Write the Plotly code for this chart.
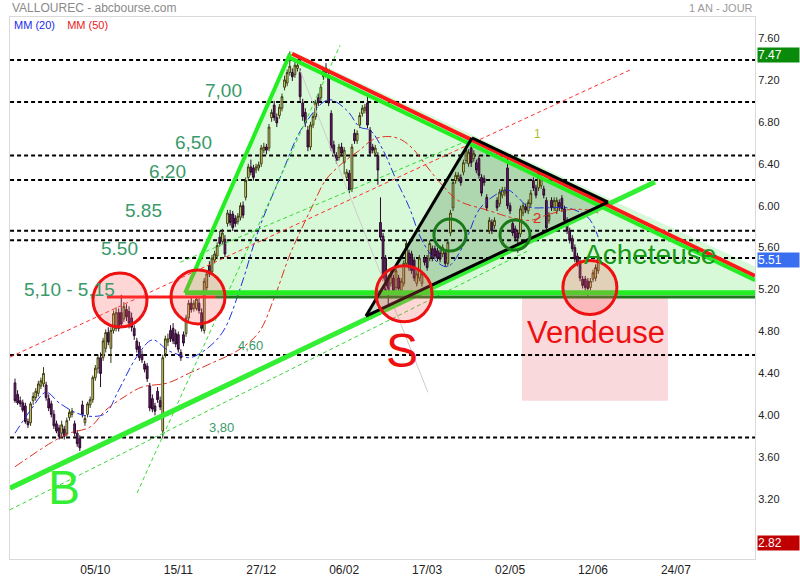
import plotly.graph_objects as go

# ---------------- data ----------------
opens = [4.31,4.20,4.14,4.12,4.09,3.94,3.93,4.14,4.17,4.21,4.28,4.30,4.29,4.16,4.11,4.01,3.92,3.88,3.83,3.87,
         3.83,3.98,4.01,3.92,3.83,3.78,4.10,3.93,4.01,4.10,4.15,4.36,4.45,4.55,4.55,4.64,4.79,4.64,4.81,4.83,
         4.98,4.98,4.92,5.01,4.99,4.93,4.83,4.71,4.66,4.58,4.49,4.47,4.28,4.16,4.09,4.23,4.14,3.85,4.59,4.70,
         4.81,4.83,4.78,4.77,4.60,4.77,4.78,4.93,5.07,5.02,5.02,5.07,4.98,4.81,5.22,5.43,5.37,5.48,5.52,5.70,
         5.66,5.68,5.83,5.92,5.92,5.88,5.85,5.89,6.00,6.08,6.27,6.37,6.36,6.34,6.36,6.40,6.53,6.56,6.55,6.84,
         6.96,6.84,6.86,6.93,7.13,7.17,7.27,7.27,7.25,7.31,7.27,6.98,6.89,6.72,6.56,6.77,6.85,7.03,7.03,7.23,
         7.31,7.23,6.88,6.58,6.48,6.46,6.56,6.41,6.27,6.31,6.16,6.69,6.62,6.77,6.88,6.91,6.98,6.72,6.56,6.50,
         6.48,5.84,5.71,5.50,5.31,5.26,5.31,5.22,5.31,5.19,5.26,5.45,5.55,5.54,5.48,5.26,5.31,5.26,5.50,5.50,
         5.50,5.59,5.59,5.57,5.55,5.54,5.55,5.45,5.74,5.98,6.24,6.26,6.27,6.32,6.43,6.40,6.55,6.45,6.41,6.45,
         6.27,6.26,6.08,5.76,5.84,5.81,6.05,6.02,6.10,6.12,6.36,6.00,5.83,5.78,5.74,5.73,5.93,5.99,5.95,6.02,
         6.24,6.17,6.17,6.19,6.16,6.05,5.86,6.05,5.98,5.95,6.03,6.07,5.97,5.86,5.76,5.69,5.60,5.52,5.46,5.30,
         5.30,5.28,5.22,5.30,5.31,5.38]
highs = [4.35,4.24,4.18,4.15,4.12,3.97,4.13,4.22,4.26,4.33,4.36,4.46,4.32,4.20,4.14,4.05,3.95,3.91,3.95,3.90,
         3.98,4.06,4.07,3.95,3.86,3.81,4.14,4.00,4.13,4.18,4.38,4.48,4.58,4.60,4.74,4.82,4.84,4.84,5.00,5.03,
         5.02,5.15,5.08,5.06,5.04,4.98,4.86,4.74,4.70,4.62,4.52,4.50,4.31,4.20,4.12,4.27,4.18,4.58,4.76,4.78,
         4.86,4.88,4.82,4.80,4.63,4.80,4.96,5.10,5.12,5.10,5.14,5.12,5.02,5.31,5.38,5.47,5.53,5.57,5.65,5.76,
         5.78,5.72,5.96,5.96,5.95,5.91,5.93,6.03,6.04,6.27,6.40,6.44,6.39,6.40,6.42,6.58,6.60,6.59,6.78,6.92,
         7.00,6.88,6.97,7.07,7.24,7.30,7.47,7.31,7.38,7.40,7.31,7.02,6.93,6.76,6.80,6.88,7.01,7.07,7.16,7.32,
         7.36,7.27,6.91,6.62,6.51,6.59,6.60,6.56,6.35,6.34,6.59,6.73,6.72,6.89,6.96,6.97,7.05,6.75,6.59,6.58,
         6.51,6.08,5.74,5.53,5.34,5.38,5.34,5.41,5.34,5.31,5.48,5.67,5.58,5.57,5.51,5.38,5.53,5.38,5.53,5.53,
         5.67,5.62,5.62,5.60,5.58,5.63,5.58,5.68,5.96,6.25,6.32,6.32,6.30,6.44,6.56,6.54,6.64,6.53,6.44,6.48,
         6.30,6.29,6.11,5.89,5.87,5.89,6.08,6.16,6.18,6.18,6.45,6.03,5.86,5.81,5.77,6.00,6.03,6.02,6.06,6.15,
         6.27,6.20,6.34,6.29,6.19,6.08,5.94,6.08,6.08,6.08,6.06,6.10,6.00,5.89,5.79,5.72,5.63,5.55,5.49,5.33,
         5.33,5.31,5.31,5.39,5.44,5.54]
lows = [4.12,4.10,4.08,4.03,3.92,3.88,3.90,4.10,4.14,4.18,4.25,4.27,4.14,4.04,3.98,3.87,3.83,3.77,3.80,3.77,
        3.80,3.95,3.98,3.80,3.70,3.66,3.98,3.90,3.98,4.07,4.12,4.33,4.40,4.27,4.52,4.60,4.67,4.50,4.78,4.80,
        4.80,4.85,4.89,4.90,4.83,4.80,4.72,4.60,4.52,4.50,4.41,4.32,4.04,4.03,4.00,4.12,4.05,3.78,4.55,4.66,
        4.70,4.68,4.65,4.60,4.52,4.66,4.75,4.90,4.98,4.99,5.00,4.97,4.80,4.78,5.19,5.32,5.34,5.45,5.49,5.61,
        5.63,5.51,5.80,5.81,5.76,5.80,5.82,5.86,5.88,6.05,6.24,6.29,6.24,6.31,6.33,6.37,6.50,6.49,6.52,6.80,
        6.81,6.75,6.83,6.90,7.10,7.14,7.24,7.19,7.22,7.28,7.00,6.81,6.75,6.52,6.53,6.74,6.82,6.95,7.00,7.20,
        7.24,6.95,6.52,6.47,6.40,6.43,6.47,6.30,6.24,6.12,6.13,6.59,6.59,6.74,6.85,6.88,6.74,6.47,6.50,6.47,
        6.20,5.67,5.28,5.16,5.05,5.23,5.16,5.19,5.18,5.15,5.23,5.42,5.38,5.35,5.28,5.23,5.28,5.23,5.43,5.38,
        5.47,5.47,5.49,5.47,5.46,5.51,5.42,5.42,5.71,5.95,6.21,6.23,6.19,6.29,6.40,6.37,6.37,6.42,6.31,6.26,
        6.09,6.19,5.95,5.73,5.73,5.78,5.95,5.99,6.07,6.09,5.97,5.92,5.71,5.66,5.55,5.70,5.90,5.93,5.92,5.99,
        6.14,6.07,6.14,6.16,6.07,5.76,5.83,5.95,5.95,5.92,5.95,5.94,5.83,5.73,5.64,5.56,5.46,5.42,5.28,5.21,
        5.19,5.14,5.19,5.27,5.28,5.35]
closes = [4.14,4.12,4.11,4.05,3.94,3.91,4.11,4.18,4.23,4.30,4.33,4.40,4.17,4.07,4.01,3.90,3.85,3.80,3.91,3.80,
          3.95,4.03,4.04,3.83,3.73,3.69,4.01,3.97,4.11,4.15,4.36,4.45,4.55,4.40,4.71,4.79,4.70,4.81,4.97,4.98,
          4.83,4.87,5.04,4.94,4.88,4.84,4.76,4.63,4.55,4.53,4.44,4.35,4.07,4.06,4.04,4.15,4.08,4.55,4.73,4.73,
          4.73,4.71,4.68,4.63,4.55,4.69,4.93,5.07,5.01,5.07,5.11,5.00,4.83,5.28,5.35,5.35,5.50,5.54,5.62,5.64,
          5.74,5.54,5.93,5.84,5.79,5.83,5.90,6.00,5.91,6.24,6.37,6.32,6.27,6.37,6.39,6.55,6.56,6.53,6.75,6.89,
          6.84,6.79,6.94,7.04,7.20,7.27,7.33,7.23,7.34,7.34,7.04,6.85,6.79,6.56,6.77,6.85,6.98,6.98,7.13,7.29,
          7.27,6.98,6.55,6.50,6.43,6.56,6.50,6.53,6.32,6.15,6.56,6.62,6.69,6.86,6.93,6.94,6.77,6.50,6.53,6.55,
          6.34,5.70,5.31,5.19,5.16,5.35,5.19,5.38,5.21,5.28,5.45,5.64,5.41,5.38,5.31,5.35,5.50,5.35,5.46,5.41,
          5.64,5.50,5.52,5.50,5.49,5.60,5.45,5.65,5.93,6.22,6.29,6.29,6.22,6.41,6.53,6.51,6.41,6.50,6.34,6.29,
          6.12,6.22,5.98,5.86,5.76,5.86,5.98,6.13,6.15,6.15,6.00,5.95,5.74,5.69,5.69,5.97,6.00,5.96,6.03,6.12,
          6.17,6.10,6.31,6.26,6.10,5.79,5.91,5.98,6.05,6.05,5.98,5.97,5.86,5.76,5.67,5.59,5.49,5.45,5.31,5.24,
          5.22,5.21,5.28,5.36,5.41,5.51]
bar_index = list(range(len(closes)))

mm20_idx = [0,6,12,17,24,30,35,40,47,53,59,63,67,72,80,87,94,103,111,121,128,133,137,142,147,152,157,163,167,173,179,184,190,194,198,205,213,221,225]
mm20_val = [3.83,4.05,4.22,4.12,4.02,3.99,4.02,4.24,4.56,4.72,4.62,4.58,4.55,4.60,4.79,5.22,5.77,6.31,6.75,7.01,6.91,6.75,6.72,6.53,6.25,5.99,5.67,5.46,5.42,5.62,5.96,6.08,6.15,6.08,5.99,5.98,5.98,5.89,5.70]
mm50_idx = [0,14,21,29,35,43,49,59,67,76,86,94,100,106,110,115,120,128,133,138,144,149,154,159,164,171,182,191,199,205,213,221,225]
mm50_val = [3.51,3.74,3.83,3.89,4.05,4.19,4.27,4.31,4.40,4.50,4.62,4.79,5.12,5.53,5.75,6.01,6.25,6.44,6.53,6.63,6.66,6.63,6.53,6.37,6.22,6.05,5.96,5.89,5.86,5.91,5.96,5.96,5.93]

x_tick_pos = [31, 63, 95, 127, 159, 191, 223, 255]
x_tick_txt = ["05/10", "15/11", "27/12", "06/02", "17/03", "02/05", "12/06", "24/07"]
y_ticks = [3.2, 3.6, 4.0, 4.4, 4.8, 5.2, 5.6, 6.0, 6.4, 6.8, 7.2, 7.6]

level_prices = [7.39, 6.99, 6.48, 6.245, 5.76, 5.67, 5.50, 4.575, 3.79]
level_start = [-1.9, -1.9, -1.9, -1.9, -1.9, -1.9, 49.4, -1.9, -1.9]

high_label = 7.47
last_label = 5.51
low_label = 2.82

X0, X1 = -1.93, 285.5
Y0, Y1 = 2.63, 7.80

fig = go.Figure()

shapes = []
shapes.append(dict(type="path", layer="below",
                   path="M 65.6,5.167 L 106.1,7.485 L 285.5,5.42 L 285.5,5.167 Z",
                   fillcolor="rgba(190,245,190,0.6)", line=dict(width=0)))
shapes.append(dict(type="rect", layer="below", x0=195.6, x1=251.9, y0=4.14, y1=5.13,
                   fillcolor="rgba(245,170,180,0.45)", line=dict(width=0)))
shapes.append(dict(type="path", layer="below",
                   path="M 135.4,4.947 L 176.3,6.646 L 228.8,6.035 Z",
                   fillcolor="rgba(70,130,70,0.28)", line=dict(width=0)))
for p, s in zip(level_prices, level_start):
    shapes.append(dict(type="line", layer="below", x0=s, x1=X1, y0=p, y1=p,
                       line=dict(color="black", width=2, dash="4px,3px")))

fig.add_trace(go.Candlestick(
    x=bar_index, open=opens, high=highs, low=lows, close=closes,
    increasing=dict(line=dict(color="#3a3a10", width=1), fillcolor="#f2f08a"),
    decreasing=dict(line=dict(color="#2a0a2a", width=1), fillcolor="#6e1c6e"),
    whiskerwidth=0, hoverinfo="skip", showlegend=False))

fig.add_trace(go.Scatter(x=mm20_idx, y=mm20_val, mode="lines",
                         line=dict(color="#2030e0", width=1, dash="dashdot", shape="spline"),
                         hoverinfo="skip", showlegend=False))
fig.add_trace(go.Scatter(x=mm50_idx, y=mm50_val, mode="lines",
                         line=dict(color="#e03020", width=1, dash="dashdot", shape="spline"),
                         hoverinfo="skip", showlegend=False))

def seg(x0, y0, x1, y1, color, width, dash="solid"):
    shapes.append(dict(type="line", x0=x0, y0=y0, x1=x1, y1=y1,
                       line=dict(color=color, width=width, dash=dash)))

seg(-1.93, 4.556, 237.3, 7.295, "#ff3030", 1, "4px,3px")
seg(-1.93, 3.10, 198.7, 5.58, "#33dd33", 1, "4px,3px")
seg(47.1, 3.26, 125.4, 7.53, "#33dd33", 1, "4px,3px")
seg(63.7, 5.46, 175.5, 6.63, "#33dd33", 1, "4px,3px")
seg(110.0, 7.29, 159.3, 4.22, "#cccccc", 1)

seg(-1.93, 3.306, 246.9, 6.226, "#33ee33", 5)
seg(65.6, 5.17, 285.5, 5.17, "#22ee22", 5)
seg(77.2, 5.13, 285.5, 5.13, "#1a7a1a", 3)
seg(35.5, 5.13, 77.2, 5.13, "#ff1a1a", 3)
seg(65.6, 5.167, 106.1, 7.45, "#22ee22", 4)
seg(106.9, 7.45, 285.5, 5.33, "#ff1a1a", 4)
seg(106.1, 7.41, 285.5, 5.29, "#22ee22", 4)
seg(135.4, 4.947, 176.3, 6.646, "black", 3)
seg(176.3, 6.646, 228.8, 6.035, "black", 3)
seg(135.4, 4.947, 228.8, 6.035, "black", 3)

def circ(cx, cy, r, color, fill):
    shapes.append(dict(type="circle", xsizemode="pixel", ysizemode="pixel",
                       xanchor=cx, yanchor=cy, x0=-r, x1=r, y0=-r, y1=r,
                       line=dict(color=color, width=3), fillcolor=fill))

circ(40.5, 5.10, 27, "#ee1111", "rgba(255,90,90,0.25)")
circ(70.6, 5.13, 27, "#ee1111", "rgba(255,90,90,0.25)")
circ(150.1, 5.16, 28, "#ee1111", "rgba(255,90,90,0.25)")
circ(221.8, 5.22, 27, "#ee1111", "rgba(255,90,90,0.25)")
circ(167.8, 5.72, 16, "#1a7a1a", "rgba(0,0,0,0)")
circ(192.9, 5.72, 15, "#1a7a1a", "rgba(0,0,0,0)")

ann = []
def txt(x, y, s, size, color, **kw):
    d = dict(x=x, y=y, xref="x", yref="y", text=s, showarrow=False,
             font=dict(size=size, color=color, family="Liberation Sans, Arial, sans-serif"))
    d.update(kw)
    ann.append(d)

lab = "#3a9a6a"
txt(80.6, 7.10, "7,00", 19, lab)
txt(68.7, 6.60, "6,50", 19, lab)
txt(59.0, 6.33, "6,20", 19, lab)
txt(49.4, 5.95, "5.85", 19, lab)
txt(40.5, 5.59, "5.50", 19, lab)
txt(21.2, 5.205, "5,10 - 5,15", 19, lab)
txt(91.0, 4.67, "4,60", 13, lab)
txt(79.5, 3.88, "3,80", 13, lab)
txt(201.4, 6.68, "1", 12, "#aabb33")
txt(201.4, 5.89, "2", 15, "#dd3322")
txt(18.9, 3.31, "B", 48, "#33ee33")
txt(149.3, 4.62, "S", 48, "#ee1111")
txt(224.2, 4.79, "Vendeuse", 31, "#ee1111")
txt(245.0, 5.53, "Acheteuse", 28, "#1a991a")

ann.append(dict(xref="paper", yref="paper", x=0, y=1, yshift=9, xanchor="left", yanchor="middle",
                text="VALLOUREC - abcbourse.com", showarrow=False,
                font=dict(size=12, color="#8a8a8a", family="Liberation Sans, Arial, sans-serif")))
ann.append(dict(xref="paper", yref="paper", x=1, y=1, yshift=9, xanchor="right", yanchor="middle",
                text="1 AN - JOUR", showarrow=False,
                font=dict(size=11, color="#9a9a9a", family="Liberation Sans, Arial, sans-serif")))
ann.append(dict(xref="paper", yref="paper", x=0, y=1, xshift=2, yshift=-8, xanchor="left", yanchor="middle",
                text="<span style='color:#1a2af0'>MM (20)</span>&nbsp;&nbsp;&nbsp;&nbsp;<span style='color:#e81a1a'>MM (50)</span>",
                showarrow=False, font=dict(size=11, family="Liberation Sans, Arial, sans-serif")))

for v, bg, ys in [(high_label, "#0a8a0a", -3), (last_label, "#3a6ef0", -3), (low_label, "#c00000", -4)]:
    ann.append(dict(xref="paper", yref="y", x=1, y=v, xanchor="left", yanchor="middle", xshift=2, yshift=ys,
                    text="%.2f" % v, showarrow=False, bgcolor=bg, width=41, height=14, align="left",
                    borderpad=0, font=dict(size=12, color="white", family="Liberation Sans, Arial, sans-serif")))

fig.update_layout(
    width=800, height=580,
    margin=dict(l=10, r=45, t=17, b=21, autoexpand=False),
    paper_bgcolor="white", plot_bgcolor="white",
    shapes=shapes, annotations=ann, showlegend=False, boxgap=0.05,
    xaxis=dict(range=[X0, X1], tickvals=x_tick_pos, ticktext=x_tick_txt, showgrid=False, zeroline=False,
               automargin=False,
               rangeslider=dict(visible=False), showline=True, mirror=True, linecolor="#d9d9d9", linewidth=1,
               tickfont=dict(size=12, color="#222", family="Liberation Sans Narrow, Arial Narrow, sans-serif"),
               ticks=""),
    yaxis=dict(range=[Y0, Y1], side="right", tickvals=y_ticks, tickformat=".2f", showgrid=False,
               automargin=False,
               zeroline=False, showline=True, mirror=True, linecolor="#d9d9d9", linewidth=1, ticks="",
               tickfont=dict(size=11, color="#222", family="Liberation Sans, Arial, sans-serif")),
)

fig.write_html("out.html", config={"displayModeBar": False},
               post_script="document.body.style.margin='0';")
